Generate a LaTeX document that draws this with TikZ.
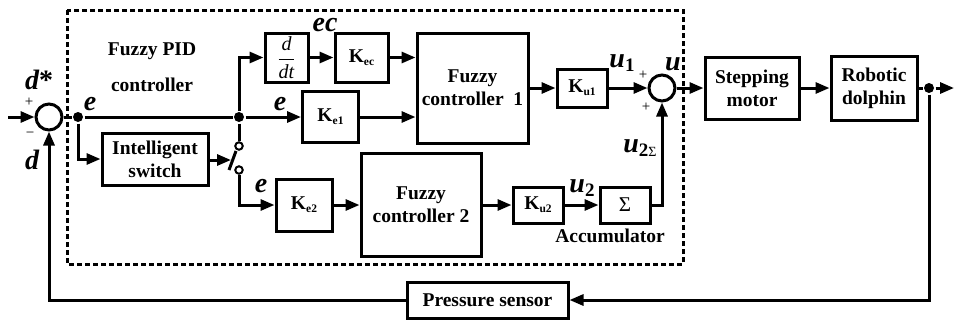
\documentclass[tikz,border=0pt]{standalone}
\usepackage{fontspec}
\setmainfont{Liberation Serif}
\usetikzlibrary{arrows.meta}
\newcommand{\Kb}[1]{K\raisebox{-3pt}{\fontsize{11.5}{11.5}\selectfont #1}}
\begin{document}
\begin{tikzpicture}[x=1pt,y=-1pt,line width=3pt,
  blk/.style={draw,line width=3pt,align=center,inner sep=0pt,font=\fontsize{19.5}{23}\selectfont\bfseries},
  arr/.style={-{Triangle[length=14pt,width=11pt]}},
  lab/.style={inner sep=0pt,font=\fontsize{28}{28}\selectfont\bfseries\itshape},
  txt/.style={inner sep=0pt,font=\fontsize{19.5}{23}\selectfont\bfseries},
  sgn/.style={inner sep=0pt,font=\fontsize{15}{15}\selectfont},
  dotn/.style={circle,fill,inner sep=0pt,minimum size=10pt},
  sumn/.style={circle,draw,line width=3pt,minimum size=26pt,inner sep=0pt},
  contact/.style={circle,draw,line width=2pt,fill=white,minimum size=7.5pt,inner sep=0pt},
  dashbox/.style={line width=3pt,dash pattern=on 5pt off 3pt}]
\useasboundingbox (0,0) rectangle (954,325);

% dashed controller frame
\draw[dashbox] (67,10) rectangle (683,264);

% nodes
\coordinate (in) at (8,117);
\node[sumn] (sum1) at (49,117) {};
\node[dotn] (dot1) at (78,117) {};
\node[dotn] (dot2) at (239,117) {};
\node[blk,minimum width=43pt,minimum height=49pt] (ddt) at (286.5,57.5)
  {$\displaystyle\frac{\mbox{\fontsize{20}{20}\selectfont\mdseries\itshape d}}{\mbox{\fontsize{20}{20}\selectfont\mdseries\itshape dt}}$};
\node[blk,minimum width=53pt,minimum height=49pt] (kec) at (361.5,57.5) {\Kb{ec}};
\node[blk,minimum width=111pt,minimum height=110pt] (fc1) at (472.5,88) {Fuzzy\\controller~~1};
\node[blk,minimum width=56pt,minimum height=51pt] (ke1) at (330.5,117) {\Kb{e1}};
\node[blk,minimum width=50pt,minimum height=38pt] (ku1) at (582,88) {\Kb{u1}};
\node[sumn] (sum2) at (662,88) {};
\node[blk,minimum width=94pt,minimum height=62pt] (sm) at (752,88) {Stepping\\motor};
\node[blk,minimum width=86pt,minimum height=64pt] (rd) at (874,88) {Robotic\\dolphin};
\node[dotn] (dot3) at (929,88) {};
\coordinate (out) at (954,88);
\node[blk,minimum width=106pt,minimum height=52pt] (isw) at (155,159) {Intelligent\\switch};
\node[contact] (c1) at (239,146) {};
\node[contact] (c2) at (239,170) {};
\coordinate (bladeA) at (229,170);
\coordinate (bladeB) at (236,151);
\coordinate (bladeM) at (231,160);
\node[blk,minimum width=56pt,minimum height=52pt] (ke2) at (304,205) {\Kb{e2}};
\node[blk,minimum width=120pt,minimum height=103pt] (fc2) at (421,205) {Fuzzy\\controller 2};
\node[blk,minimum width=50pt,minimum height=36pt] (ku2) at (538,205) {\Kb{u2}};
\node[blk,minimum width=50pt,minimum height=36pt,font=\fontsize{21}{21}\selectfont] (sig) at (625,205) {Σ};
\node[blk,minimum width=161pt,minimum height=36pt] (ps) at (487.5,300) {Pressure sensor};

% labels
\node[txt] (t1) at (152,51) {Fuzzy PID};
\node[txt] (t2) at (152,85) {controller};
\node[lab] (ldstar) at (39,80) {d\upshape*};
\node[sgn] (p1) at (29,102) {+};
\node[sgn] (m1) at (30,135) {−};
\node[lab] (ld) at (32,160) {d};
\node[lab] (le1) at (90,104) {e};
\node[lab] (le2) at (280,104) {e};
\node[lab] (lec) at (325,25) {ec};
\node[lab] (le3) at (261,186) {e};
\node[lab] (lu1) at (622,63) {u\raisebox{-4pt}{\fontsize{19}{19}\selectfont\upshape 1}};
\node[sgn] (p2) at (643,75) {+};
\node[sgn] (p3) at (646,107) {+};
\node[lab] (lu) at (673,64) {u};
\node[lab] (lu2s) at (640,148) {u\raisebox{-4pt}{\fontsize{19}{19}\selectfont\upshape 2\fontsize{14}{14}\selectfont\mdseries Σ}};
\node[lab] (lu2) at (582,188) {u\raisebox{-4pt}{\fontsize{19}{19}\selectfont\upshape 2}};
\node[txt] (lacc) at (610,236) {Accumulator};

% connectors
\draw[arr] (in) -- (sum1);
\draw (sum1.east) -- (dot1) -- (dot2);
\draw[arr] (dot2) -- (ke1);
\draw[arr] (dot2) |- (ddt.west);
\draw[arr] (dot1) |- (isw.west);
\draw (dot2) -- (c1);
\draw[arr] (isw.east |- bladeM) -- (bladeM);
\draw (bladeA) -- (bladeB);
\draw[arr] (c2) |- (ke2.west);
\draw[arr] (ddt) -- (kec);
\draw[arr] (kec) -- (kec -| fc1.west);
\draw[arr] (ke1) -- (ke1 -| fc1.west);
\draw[arr] (fc1) -- (ku1);
\draw[arr] (ku1) -- (sum2);
\draw[arr] (sum2) -- (sm);
\draw[arr] (sm) -- (rd);
\draw (rd) -- (dot3);
\draw[arr] (dot3) -- (out);
\draw[arr] (ke2) -- (fc2);
\draw[arr] (fc2) -- (ku2);
\draw[arr] (ku2) -- (sig);
\draw[arr] (sig.east) -| (sum2.south);
\draw[arr] (dot3) |- (ps.east);
\draw[arr] (ps.west) -| (sum1.south);
\end{tikzpicture}
\end{document}
